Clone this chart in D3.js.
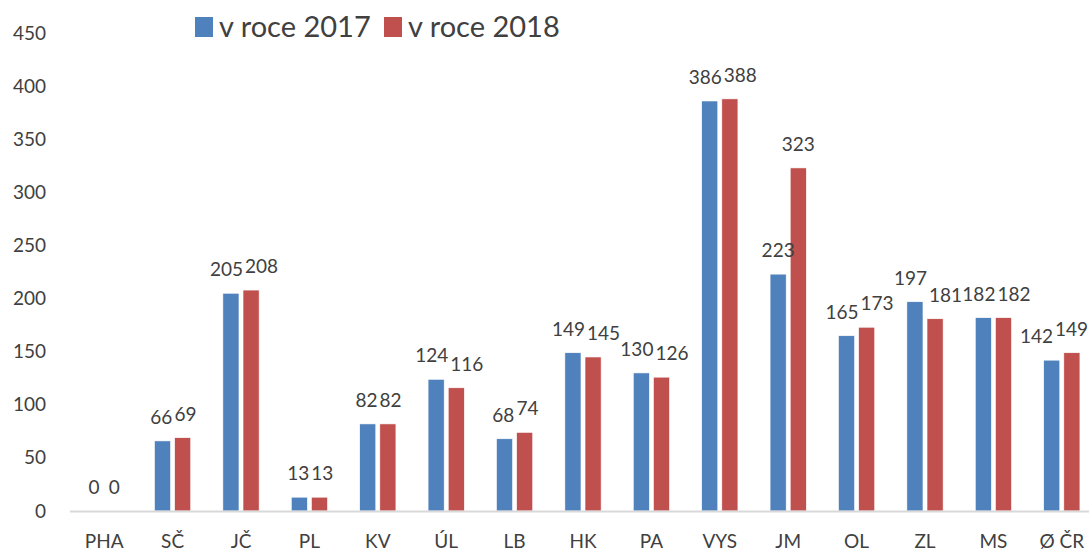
<!DOCTYPE html>
<html>
<head>
<meta charset="utf-8">
<script src="https://cdn.jsdelivr.net/npm/d3@7.9.0/dist/d3.min.js"></script>
<style>
  html, body { margin: 0; padding: 0; background: #fff; }
  svg { display: block; font-family: Lato, "Open Sans", sans-serif; }
  .tick text, .cat, .lbl, .legend text { fill: #404040; }
</style>
</head>
<body>
<svg id="chart" width="1089" height="553"></svg>
<script>
// ---------- Data ----------
const categories = ["PHA", "SČ", "JČ", "PL", "KV", "ÚL", "LB", "HK", "PA", "VYS", "JM", "OL", "ZL", "MS", "Ø ČR"];
const seriesNames = ["v roce 2017", "v roce 2018"];
const values2017 = [0, 66, 205, 13, 82, 124, 68, 149, 130, 386, 223, 165, 197, 182, 142];
const values2018 = [0, 69, 208, 13, 82, 116, 74, 145, 126, 388, 323, 173, 181, 182, 149];
const yTicks = [0, 50, 100, 150, 200, 250, 300, 350, 400, 450];
const colors = ["#4F81BD", "#C0504D"];

// ---------- Chart ----------
const svg = d3.select("#chart");
const width = 1089, height = 553;
const plot = { left: 70, right: 1096, top: 33, bottom: 511 };

const x0 = d3.scaleBand()
  .domain(categories)
  .range([plot.left, plot.right])
  .paddingInner(0.47)
  .paddingOuter(0.235);

const x1 = d3.scaleBand()
  .domain(seriesNames)
  .range([0, x0.bandwidth()])
  .paddingInner(0.2);

const y = d3.scaleLinear()
  .domain([0, 450])
  .range([plot.bottom, plot.top]);

const color = d3.scaleOrdinal().domain(seriesNames).range(colors);

const rows = categories.map((c, i) => ({
  cat: c,
  vals: [
    { s: seriesNames[0], v: values2017[i] },
    { s: seriesNames[1], v: values2018[i] }
  ]
}));

// y axis (labels only)
svg.append("g")
  .attr("transform", `translate(${plot.left - 24},0)`)
  .call(d3.axisLeft(y).tickValues(yTicks).tickSize(0).tickPadding(0))
  .call(g => g.select(".domain").remove())
  .selectAll("text")
  .attr("font-size", 19)
  .attr("font-family", "Lato, sans-serif");

// bars
const groups = svg.append("g").selectAll("g")
  .data(rows)
  .join("g")
  .attr("transform", d => `translate(${x0(d.cat)},0)`);

groups.selectAll("rect")
  .data(d => d.vals)
  .join("rect")
  .attr("x", d => x1(d.s))
  .attr("width", x1.bandwidth())
  .attr("y", d => y(d.v))
  .attr("height", d => y(0) - y(d.v))
  .attr("fill", d => color(d.s))
  .attr("stroke", "#fff")
  .attr("stroke-width", 0.6);

// baseline
svg.append("line")
  .attr("x1", plot.left)
  .attr("x2", width)
  .attr("y1", y(0) + 0.5)
  .attr("y2", y(0) + 0.5)
  .attr("stroke", "#D9D9D9")
  .attr("stroke-width", 2);

// data labels
groups.selectAll("text.lbl")
  .data(d => d.vals)
  .join("text")
  .attr("class", "lbl")
  .attr("x", d => x1(d.s) + x1.bandwidth() / 2)
  .attr("y", d => y(d.v) - 17)
  .attr("text-anchor", "middle")
  .attr("font-size", 19)
  .text(d => d.v);

// nudge overlapping label pairs apart, keep them inside the picture
groups.each(function (d) {
  const t = d3.select(this).selectAll("text.lbl").nodes();
  const a = t[0].getBBox(), b = t[1].getBBox();
  const vOverlap = Math.min(a.y + a.height, b.y + b.height) - Math.max(a.y, b.y);
  const hOverlap = (a.x + a.width + 2) - b.x;
  let dxA = 0, dxB = 0;
  if (vOverlap > 0 && hOverlap > 0) {
    dxA = -hOverlap * 0.3;
    dxB = hOverlap * 0.7;
  }
  const gx = x0(d.cat);
  const over = gx + b.x + b.width + dxB - (width - 1);
  if (over > 0) {
    dxB -= over;
    dxA -= over;
  }
  d3.select(t[0]).attr("dx", dxA);
  d3.select(t[1]).attr("dx", dxB);
});

// category labels
svg.append("g").selectAll("text")
  .data(categories)
  .join("text")
  .attr("class", "cat")
  .attr("x", d => x0(d) + x0.bandwidth() / 2)
  .attr("y", 548)
  .attr("text-anchor", "middle")
  .attr("font-size", 19)
  .text(d => d);

// legend
const legendPos = [195, 384];
const legend = svg.append("g").attr("class", "legend")
  .selectAll("g")
  .data(seriesNames)
  .join("g")
  .attr("transform", (d, i) => `translate(${legendPos[i]},0)`);

legend.append("rect")
  .attr("x", 0)
  .attr("y", 17)
  .attr("width", 18)
  .attr("height", 20)
  .attr("fill", d => color(d));

legend.append("text")
  .attr("x", 24)
  .attr("y", 37)
  .attr("font-size", 29)
  .text(d => d);
</script>
</body>
</html>
